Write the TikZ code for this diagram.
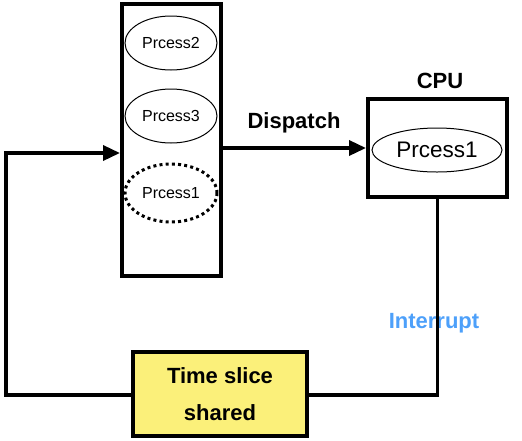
\documentclass[tikz,border=0pt]{standalone}
\usepackage{fontspec}
\setmainfont{Liberation Sans}
\usetikzlibrary{shapes.geometric,arrows.meta}
\definecolor{sliceyellow}{HTML}{FBF07A}
\definecolor{intblue}{HTML}{4DA0FA}
\tikzset{
  proc/.style={ellipse, draw, line width=1pt, inner sep=0pt, minimum width=92, minimum height=54, font=\fontsize{16}{18}\selectfont},
  thickbox/.style={draw, line width=4pt, inner sep=0pt},
  flow/.style={line width=3.5pt},
  tip/.style={-{Triangle[length=17pt,width=15pt]}}
}
\begin{document}
\begin{tikzpicture}[x=1pt,y=-1pt]
\useasboundingbox (0,0) rectangle (522,440);
\node[thickbox, minimum width=99, minimum height=272] (queue) at (171.5,140){};
\node[proc] (p2) at (171,43){Prcess2};
\node[proc] (p3) at (171,116){Prcess3};
\node[proc, line width=3pt, dash pattern=on 3pt off 3.2pt, minimum height=58] (p1) at (171,193){Prcess1};
\node[thickbox, minimum width=139, minimum height=98] (cpu) at (437.5,148){};
\node[proc, minimum width=130, minimum height=44, font=\fontsize{22.5}{24}\selectfont] (run) at (437,150){Prcess1};
\node[font=\bfseries\fontsize{22}{24}\selectfont] (cpulbl) at (440,81){CPU};
\node[thickbox, fill=sliceyellow, minimum width=174, minimum height=84, align=center, font=\bfseries\fontsize{22}{37}\selectfont] (slice) at (220,394){Time slice\\shared};
\node[font=\bfseries\fontsize{22}{24}\selectfont] (disp) at (294,123){Dispatch};
\node[font=\bfseries\fontsize{22}{24}\selectfont, text=intblue] (intr) at (434,323){Interrupt};
\coordinate (lc) at (6,395);
\draw[flow, tip] (queue.east |- cpu.west) -- (cpu.west);
\draw[flow] (slice.east |- lc) -| (cpu.south);
\draw[flow, tip] (slice.west |- lc) -- (lc) |- ([yshift=-13pt]queue.west);

\end{tikzpicture}
\end{document}
